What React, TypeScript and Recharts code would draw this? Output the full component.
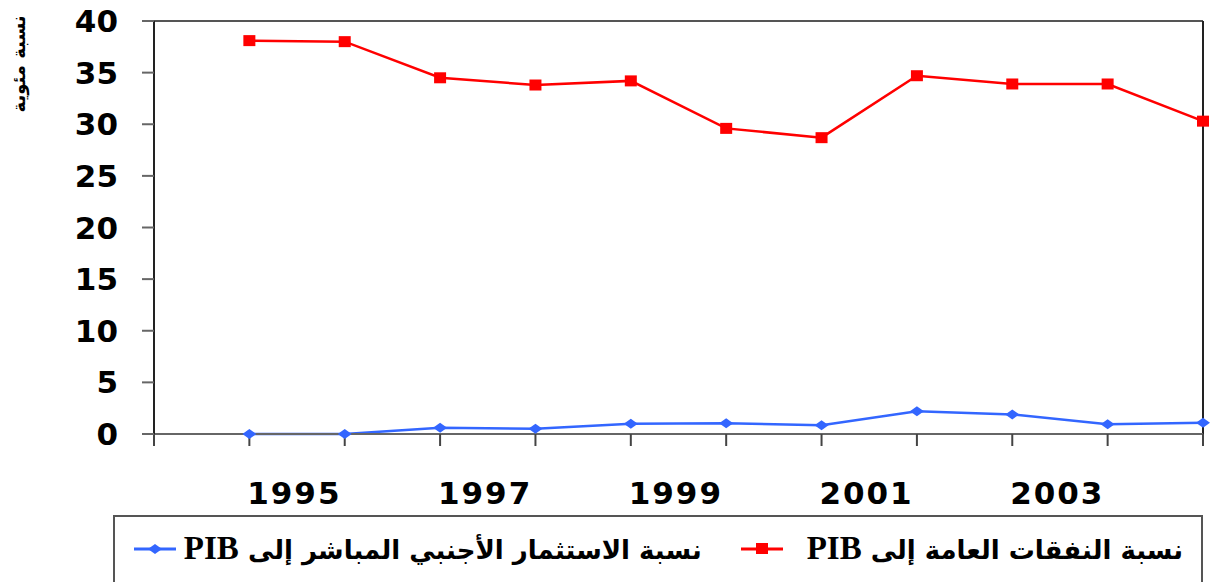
import React from 'react';
import { LineChart, Line, XAxis, YAxis, ReferenceLine } from 'recharts';

const years = [1995, 1996, 1997, 1998, 1999, 2000, 2001, 2002, 2003, 2004, 2005];
const spendingRatio = [38.1, 38.0, 34.5, 33.8, 34.2, 29.6, 28.7, 34.7, 33.9, 33.9, 30.3];
const fdiRatio = [0.0, 0.0, 0.6, 0.5, 1.0, 1.05, 0.85, 2.2, 1.9, 0.95, 1.1];
const xTicks = [1994, 1995, 1996, 1997, 1998, 1999, 2000, 2001, 2002, 2003, 2004, 2005];
const xLabels = [1995, 1997, 1999, 2001, 2003];
const yTicks = [0, 5, 10, 15, 20, 25, 30, 35, 40];

const spendingName = 'نسبة النفقات العامة إلى PIB';
const fdiName = 'نسبة الاستثمار الأجنبي المباشر إلى PIB';
const yTitle = 'نسبة مئوية';

const RED = '#ff0000';
const BLUE = '#3366ff';
const TICK_FONT = '"DejaVu Sans", sans-serif';

const data = years.map((year, i) => ({
  year,
  spending: spendingRatio[i],
  fdi: fdiRatio[i],
}));

const SquareDot = (props: any) => {
  const { cx, cy } = props;
  if (cx == null || cy == null) return null;
  return <rect x={cx - 6} y={cy - 5.5} width={12} height={11} fill={RED} />;
};

const DiamondDot = (props: any) => {
  const { cx, cy } = props;
  if (cx == null || cy == null) return null;
  return <path d={`M${cx - 7},${cy} L${cx},${cy - 5} L${cx + 7},${cy} L${cx},${cy + 5} Z`} fill={BLUE} />;
};

const XTick = (props: any) => {
  const { x, y, payload } = props;
  if (!xLabels.includes(payload.value)) return null;
  return (
    <text x={x + 45} y={y + 56} textAnchor="middle" fontFamily={TICK_FONT} fontWeight="bold" fontSize={31} fill="#000" letterSpacing={2}>
      {payload.value}
    </text>
  );
};

const YTick = (props: any) => {
  const { x, y, payload } = props;
  return (
    <text x={x} y={y + 11} textAnchor="end" fontFamily={TICK_FONT} fontWeight="bold" fontSize={31} fill="#000">
      {payload.value}
    </text>
  );
};

// the Latin "PIB" is set larger than the Arabic part, as in the original
const LegendLabel = ({ label }: { label: string }) => {
  const idx = label.lastIndexOf(' PIB');
  const arabic = idx >= 0 ? label.slice(0, idx) : label;
  const latin = idx >= 0 ? 'PIB' : '';
  return (
    <span style={{ display: 'flex', alignItems: 'baseline', gap: 9 }}>
      <span style={{ fontFamily: '"DejaVu Sans", sans-serif', fontSize: 26 }}>{arabic}</span>
      <span style={{ fontFamily: '"Liberation Serif", serif', fontSize: 33 }}>{latin}</span>
    </span>
  );
};

const LegendItem = ({ color, label, marker, gap }: { color: string; label: string; marker: 'square' | 'diamond'; gap: number }) => (
  <div style={{ display: 'flex', alignItems: 'center', gap, whiteSpace: 'nowrap' }}>
    <LegendLabel label={label} />
    <svg width={42} height={14} style={{ flex: 'none' }}>
      <line x1={0} y1={7} x2={42} y2={7} stroke={color} strokeWidth={3} />
      {marker === 'square' ? (
        <rect x={15} y={1} width={12} height={11} fill={color} />
      ) : (
        <path d="M14,7 L21,2 L28,7 L21,12 Z" fill={color} />
      )}
    </svg>
  </div>
);

export default function App() {
  return (
    <div style={{ position: 'absolute', left: 0, top: 0, width: 1210, height: 582, background: '#fff', overflow: 'hidden' }}>
      <LineChart width={1210} height={582} data={data} margin={{ top: 21, right: 7, left: 0, bottom: 0 }}>
        <XAxis
          type="number"
          dataKey="year"
          domain={[1994, 2005]}
          ticks={xTicks}
          interval={0}
          height={148}
          tickSize={12}
          axisLine={{ stroke: '#666', strokeWidth: 2 }}
          tickLine={{ stroke: '#444', strokeWidth: 2 }}
          tick={<XTick />}
        />
        <YAxis
          domain={[0, 40]}
          ticks={yTicks}
          interval={0}
          width={154}
          tickSize={12}
          tickMargin={24}
          axisLine={{ stroke: '#222', strokeWidth: 2 }}
          tickLine={{ stroke: '#666', strokeWidth: 2 }}
          tick={<YTick />}
          label={() => (
            <text
              x={25}
              y={64}
              transform="rotate(-90 25 64)"
              textAnchor="middle"
              fontFamily='"DejaVu Sans", sans-serif'
              fontWeight="bold"
              fontSize={18}
              fill="#000"
            >
              {yTitle}
            </text>
          )}
        />
        <ReferenceLine y={40} stroke="#555" strokeWidth={2} />
        <ReferenceLine x={2005} stroke="#222" strokeWidth={2} />
        <Line
          type="linear"
          dataKey="spending"
          name={spendingName}
          stroke={RED}
          strokeWidth={2.5}
          dot={<SquareDot />}
          activeDot={false}
          isAnimationActive={false}
        />
        <Line
          type="linear"
          dataKey="fdi"
          name={fdiName}
          stroke={BLUE}
          strokeWidth={2.5}
          dot={<DiamondDot />}
          activeDot={false}
          isAnimationActive={false}
        />
      </LineChart>
      <div
        style={{
          position: 'absolute',
          left: 113,
          top: 515,
          width: 1090,
          height: 80,
          border: '2px solid #555',
          boxSizing: 'border-box',
          display: 'flex',
          direction: 'rtl',
          alignItems: 'flex-start',
          paddingTop: 12,
          paddingRight: 18,
          gap: 39,
          fontWeight: 'bold',
          lineHeight: '38px',
          color: '#000',
        }}
      >
        <LegendItem color={RED} label={spendingName} marker="square" gap={24} />
        <LegendItem color={BLUE} label={fdiName} marker="diamond" gap={8} />
      </div>
    </div>
  );
}
